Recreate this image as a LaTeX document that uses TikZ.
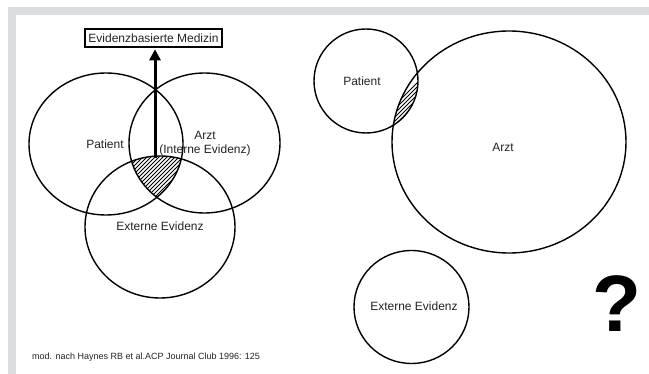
\documentclass[tikz,border=0pt]{standalone}
\usepackage{fontspec}
\setmainfont{Liberation Sans}
\usetikzlibrary{arrows.meta}
\definecolor{framegray}{RGB}{220,221,223}
\definecolor{txt}{RGB}{35,35,35}
\begin{document}
\begin{tikzpicture}[x=1pt,y=-1pt,
  ring/.style={draw=black, line width=1.4pt},
  hatch/.style={draw=black, line width=1pt},
  lbl/.style={text=txt, font=\fontsize{12}{14.5}\selectfont, inner sep=0pt, align=center},
  titlebox/.style={draw=black, line width=1.6pt, text=txt, font=\fontsize{12}{14}\selectfont,
    minimum width=137pt, minimum height=18pt, inner sep=0pt},
  ebmarrow/.style={draw=black, line width=3pt,
    -{Triangle[length=11pt, width=11pt]}, shorten >=1.5pt}]
\useasboundingbox (0,0) rectangle (649,374);
% frame
\fill[framegray] (8,7) rectangle (649,15);
\fill[framegray] (8,7) rectangle (16,374);

% left Venn: hatched intersection
\begin{scope}
  \clip (106,144) ellipse [x radius=77pt, y radius=71pt];
  \clip (204.5,143) ellipse [x radius=75.5pt, y radius=70pt];
  \clip (160,227) ellipse [x radius=75pt, y radius=71pt];
  \foreach \i in {0,4,...,220} \draw[hatch] (\i,240) -- ++(130,-130);
\end{scope}
\draw[ring] (106,144) ellipse [x radius=77pt, y radius=71pt];
\draw[ring] (204.5,143) ellipse [x radius=75.5pt, y radius=70pt];
\draw[ring] (160,227) ellipse [x radius=75pt, y radius=71pt];

\node[titlebox] (ebm) at (153.5,38) {Evidenzbasierte Medizin};
\coordinate (ebmfoot) at (155,158);
\draw[ebmarrow] (ebmfoot) -- (ebmfoot |- ebm.south);

\node[lbl] (lpat) at (105,144) {Patient};
\node[lbl] (larzt) at (205,143.5) {Arzt\\(Interne Evidenz)};
\node[lbl] (lext) at (160,226) {Externe Evidenz};

% right side
\begin{scope}
  \clip (366,81) circle [radius=52pt];
  \clip (509,142) ellipse [x radius=117pt, y radius=111pt];
  \foreach \i in {360,364,...,440} \draw[hatch] (\i,140) -- ++(80,-80);
\end{scope}
\draw[ring] (366,81) circle [radius=52pt];
\draw[ring] (509,142) ellipse [x radius=117pt, y radius=111pt];
\draw[ring] (411.5,307) ellipse [x radius=57.5pt, y radius=56.5pt];

\node[lbl] (rpat) at (362,81) {Patient};
\node[lbl] (rarzt) at (503,147) {Arzt};
\node[lbl] (rext) at (414,306) {Externe Evidenz};

\node[text=black, font=\fontsize{80}{80}\selectfont\bfseries, anchor=base, inner sep=0pt] (q) at (617,332) {?};

\node[lbl, font=\fontsize{9}{11}\selectfont, anchor=west] (src) at (32,357) {mod. nach Haynes RB et al.ACP Journal Club 1996: 125};
\end{tikzpicture}
\end{document}
